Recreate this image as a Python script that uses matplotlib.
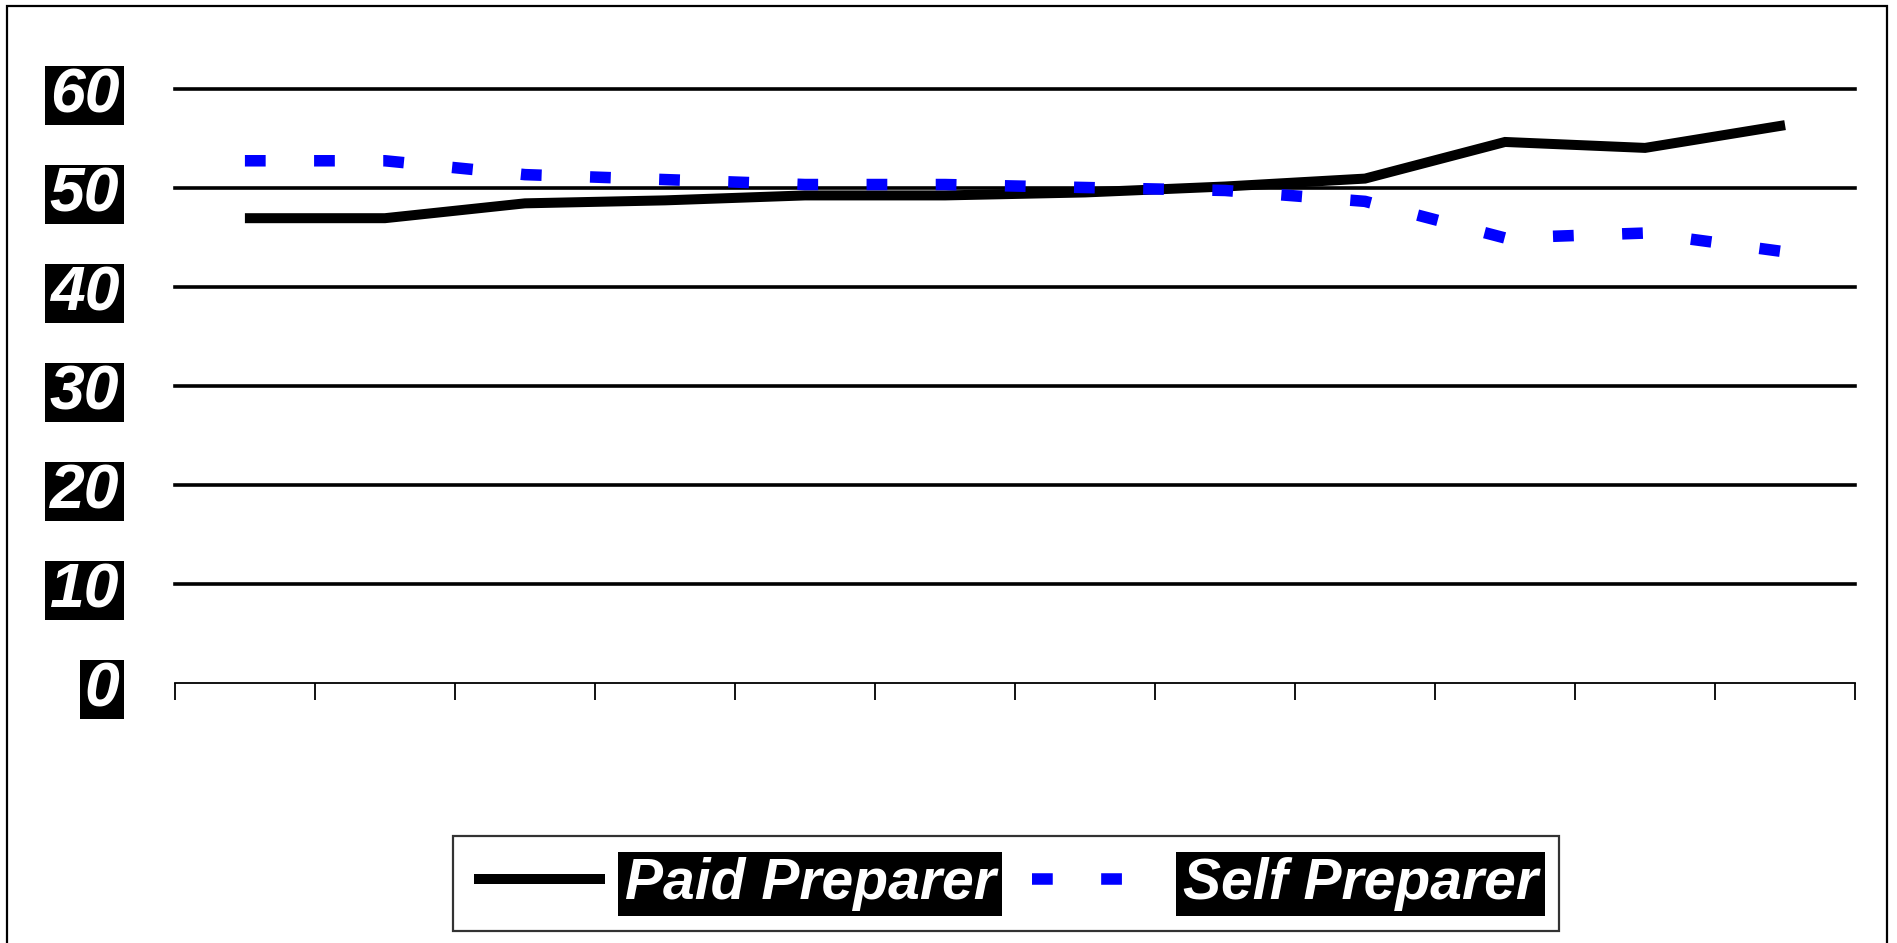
import matplotlib
matplotlib.use('Agg')
import matplotlib.pyplot as plt
from matplotlib import font_manager
from matplotlib.patches import Rectangle
from matplotlib.path import Path

# values
categories = list(range(1, 13))
paid_preparer = [47.0, 47.0, 48.5, 48.8, 49.3, 49.3, 49.6, 50.2, 51.0, 54.7, 54.1, 56.4]
self_preparer = [52.8, 52.8, 51.4, 50.9, 50.4, 50.4, 50.1, 49.8, 48.7, 45.0, 45.5, 43.6]
y_ticks = [0, 10, 20, 30, 40, 50, 60]
series_names = ['Paid Preparer', 'Self Preparer']

names = set(f.name for f in font_manager.fontManager.ttflist)
tick_font = 'Liberation Sans' if 'Liberation Sans' in names else 'DejaVu Sans'
legend_font = 'Liberation Sans Narrow' if 'Liberation Sans Narrow' in names else tick_font


def black_box(padx, pady):
    # rectangle behind a text, with its own x and y padding (in font sizes)
    def box(x0, y0, width, height, mutation_size):
        px = padx * mutation_size
        py = pady * mutation_size
        x1 = x0 + width + px
        y1 = y0 + height + py
        x0 -= px
        y0 -= py
        return Path([(x0, y0), (x1, y0), (x1, y1), (x0, y1), (x0, y0)], closed=True)
    return box


fig = plt.figure(figsize=(18.97, 9.43), dpi=100)
ax = fig.add_axes([0.0922, 0.2752, 0.8857, 0.6299])

x = [c - 0.5 for c in categories]
ax.plot(x, paid_preparer, color='black', lw=7.2, solid_joinstyle='miter', solid_capstyle='butt',
        label=series_names[0], zorder=3)
ax.plot(x, self_preparer, color='#0000FF', lw=8.3, dashes=(1.8, 4.2), dash_capstyle='butt',
        label=series_names[1], zorder=4)

for v in y_ticks[1:]:
    ax.axhline(v, color='black', lw=2.6, clip_on=False, zorder=1)

ax.set_xlim(0, 12)
ax.set_ylim(0, 60)
ax.set_xticks(range(0, 13))
ax.set_xticklabels([])
ax.tick_params(axis='x', direction='out', length=12, width=1.3)
ax.set_yticks(y_ticks)
ax.set_yticklabels([str(v) for v in y_ticks])
ax.tick_params(axis='y', length=0, pad=40)
for lab in ax.get_yticklabels():
    lab.set_fontfamily(tick_font)
    lab.set_fontweight('bold')
    lab.set_fontstyle('italic')
    lab.set_fontsize(45)
    lab.set_color('white')
    lab.set_bbox(dict(facecolor='black', edgecolor='none', boxstyle=black_box(0.08, 0.0)))

for s in ['top', 'right', 'left']:
    ax.spines[s].set_visible(False)
ax.spines['bottom'].set_linewidth(1.3)

leg = fig.legend(loc='center', bbox_to_anchor=(0.5303, 0.0626), ncol=2,
                 prop={'family': legend_font, 'weight': 'bold', 'style': 'italic', 'size': 41},
                 handlelength=2.3, handletextpad=0.35, columnspacing=0.65,
                 frameon=True, fancybox=False, borderpad=0.36, borderaxespad=0)
leg.get_frame().set_edgecolor('black')
leg.get_frame().set_linewidth(1.6)
for t in leg.get_texts():
    t.set_color('white')
    t.set_bbox(dict(facecolor='black', edgecolor='none', boxstyle=black_box(0.12, 0.09)))

# outer border of the chart area
fig.patches.append(Rectangle((0.0037, -0.02), 0.991, 1.0136, transform=fig.transFigure,
                             fill=False, edgecolor='black', lw=1.6))

fig.savefig('out.png', dpi=100)
